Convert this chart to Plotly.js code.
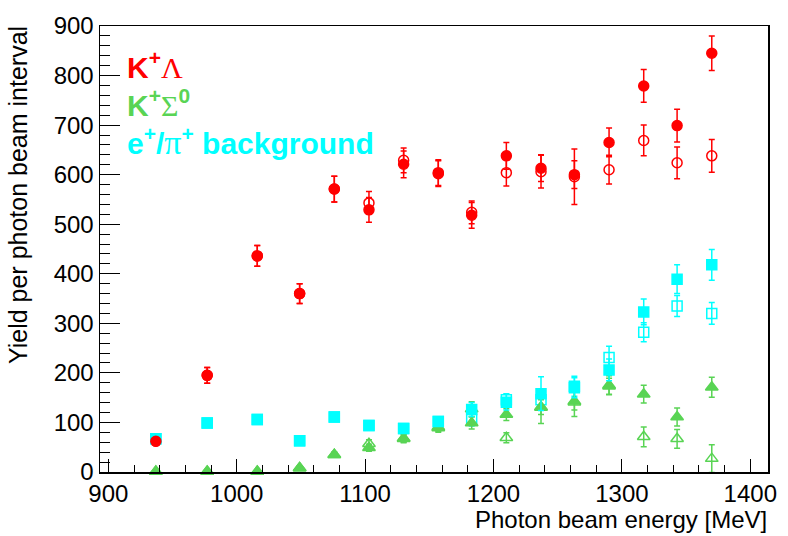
<!DOCTYPE html>
<html>
<head>
<meta charset="utf-8">
<script src="https://cdn.plot.ly/plotly-3.0.1.min.js"></script>
<style>html,body{margin:0;padding:0;background:#fff;}#chart{width:788px;height:536px;}</style>
</head>
<body>
<div id="chart"></div>
<script>
// Photon beam energy bins [MeV]
const energy = [937, 977, 1016, 1049, 1076, 1103, 1130, 1157, 1183, 1210, 1237, 1263, 1290, 1317, 1343, 1370];

// K+ Lambda
const kLamFilled    = [62, 195, 436, 360, 571, 529, 621, 604, 518, 638, 613, 600, 665, 779, 699, 845];
const kLamFilledErr = [5, 16, 21, 20, 26, 25, 27, 26, 26, 27, 27, 28, 29, 33, 33, 35];
const kLamOpen      = [62, 195, 436, 360, 571, 543, 629, 602, 524, 604, 606, 596, 610, 669, 624, 638];
const kLamOpenErr   = [5, 16, 21, 20, 26, 23, 25, 26, 23, 27, 33, 56, 29, 31, 32, 33];

// K+ Sigma0
const kSigFilled    = [1, 1, 1, 8, 35, 49, 67, 89, 99, 116, 131, 143, 173, 157, 111, 171];
const kSigFilledErr = [2, 2, 2, 3, 5, 7, 8, 9, 12, 12, 15, 18, 16, 18, 18, 20];
const kSigOpen      = [1, 1, 1, 8, 35, 57, 68, 91, 127, 69, 130, 141, 175, 71, 67, 27];
const kSigOpenErr   = [2, 2, 2, 3, 5, 8, 8, 9, 15, 10, 32, 29, 19, 20, 19, 28];

// e+/pi+ background
const bgFilled    = [67, 99, 106, 63, 111, 94, 88, 102, 126, 141, 158, 170, 206, 323, 389, 418];
const bgFilledErr = [6, 7, 8, 7, 8, 8, 8, 9, 14, 16, 34, 20, 22, 26, 29, 31];
const bgOpen      = [67, 99, 106, 63, 111, 94, 88, 102, 107, 146, 146, 173, 231, 282, 335, 320];
const bgOpenErr   = [6, 7, 8, 7, 8, 8, 8, 9, 14, 12, 15, 20, 23, 19, 21, 22];

const RED = '#ff0000', GREEN = '#59d454', CYAN = '#00ffff';

function pts(y, err, color, symbol, size) {
  return {
    type: 'scatter', mode: 'markers', x: energy, y: y,
    error_y: {type: 'data', array: err, visible: true, color: color, thickness: 1.5, width: 3},
    marker: {symbol: symbol, size: size, color: color, line: {color: color, width: 1.5}},
    showlegend: false, hoverinfo: 'skip', cliponaxis: false
  };
}

const data = [
  pts(kLamOpen, kLamOpenErr, RED, 'circle-open', 10),
  pts(kSigOpen, kSigOpenErr, GREEN, 'triangle-up-open', 11),
  pts(bgOpen, bgOpenErr, CYAN, 'square-open', 10),
  pts(kSigFilled, kSigFilledErr, GREEN, 'triangle-up', 11),
  pts(bgFilled, bgFilledErr, CYAN, 'square', 10),
  pts(kLamFilled, kLamFilledErr, RED, 'circle', 10)
];

const FONT = 'Liberation Sans, Arial, Helvetica, sans-serif';
const SERIF = 'Liberation Serif, DejaVu Serif, serif';

const layout = {
  width: 788, height: 536,
  margin: {l: 100, r: 20, t: 26, b: 64, pad: 0},
  paper_bgcolor: '#fff', plot_bgcolor: '#fff',
  font: {family: FONT, size: 24, color: '#000'},
  showlegend: false,
  xaxis: {
    range: [893.5, 1413.8], dtick: 100, tick0: 900,
    ticks: 'inside', ticklen: 13, tickwidth: 1, tickcolor: '#000',
    minor: {dtick: 20, tick0: 900, ticks: 'inside', ticklen: 7, tickwidth: 1, tickcolor: '#000'},
    showline: true, linecolor: '#000', linewidth: 1.5, mirror: true,
    showgrid: false, zeroline: false,
    tickfont: {family: FONT, size: 24, color: '#000'}
  },
  yaxis: {
    range: [0, 900], dtick: 100, tick0: 0,
    ticks: 'inside', ticklen: 20, tickwidth: 1, tickcolor: '#000',
    minor: {dtick: 20, tick0: 0, ticks: 'inside', ticklen: 10, tickwidth: 1, tickcolor: '#000'},
    showline: true, linecolor: '#000', linewidth: 1.5, mirror: true,
    showgrid: false, zeroline: false,
    tickfont: {family: FONT, size: 24, color: '#000'}
  },
  annotations: [
    {xref: 'paper', yref: 'paper', x: 1.001, y: -0.106, xanchor: 'right', yanchor: 'middle',
     text: 'Photon beam energy [MeV]', showarrow: false, font: {family: FONT, size: 24, color: '#000'}},
    {xref: 'paper', yref: 'paper', x: -0.123, y: 1.004, xanchor: 'center', yanchor: 'top', textangle: -90,
     text: 'Yield per photon beam interval', showarrow: false, font: {family: FONT, size: 25, color: '#000'}},
    {xref: 'paper', yref: 'paper', x: 0.038, y: 0.913, xanchor: 'left', yanchor: 'middle',
     text: '<b>K<sup>+</sup></b><span style="font-family:' + SERIF + '">Λ</span>', showarrow: false,
     font: {family: FONT, size: 30, color: RED}},
    {xref: 'paper', yref: 'paper', x: 0.038, y: 0.828, xanchor: 'left', yanchor: 'middle',
     text: '<b>K<sup>+</sup></b><span style="font-family:' + SERIF + '">Σ</span><b><sup>0</sup></b>', showarrow: false,
     font: {family: FONT, size: 30, color: GREEN}},
    {xref: 'paper', yref: 'paper', x: 0.038, y: 0.74, xanchor: 'left', yanchor: 'middle',
     text: '<b>e<sup>+</sup>/</b><span style="font-family:' + SERIF + ';font-size:34px">π</span><b><sup>+</sup> background</b>', showarrow: false,
     font: {family: FONT, size: 30, color: CYAN}}
  ]
};

Plotly.newPlot('chart', data, layout, {staticPlot: true, displayModeBar: false});
</script>
</body>
</html>
